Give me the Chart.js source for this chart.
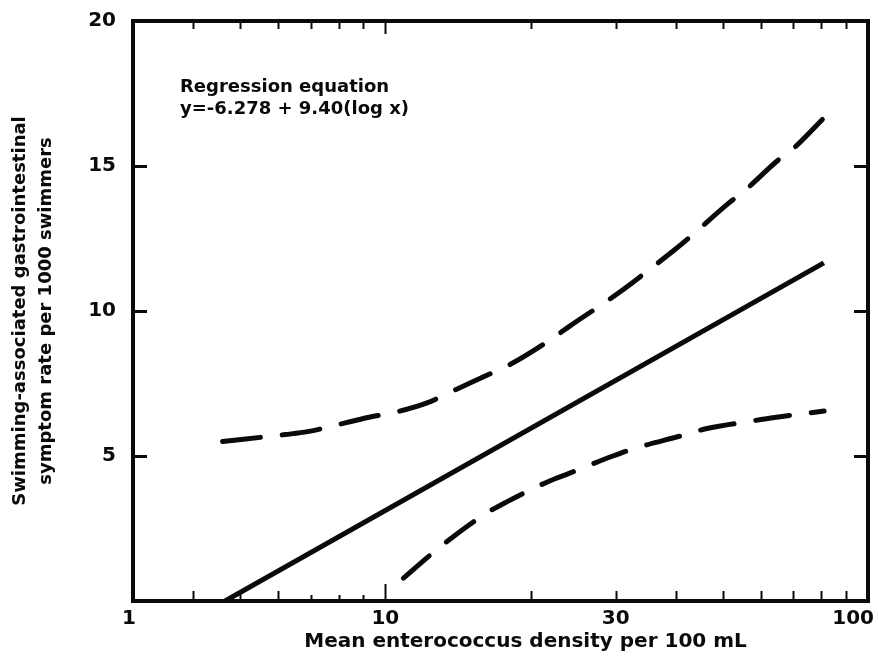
<!DOCTYPE html>
<html>
<head>
<meta charset="utf-8">
<script src="https://cdn.jsdelivr.net/npm/chart.js@4.4.1/dist/chart.umd.min.js"></script>
<style>
  html, body { margin: 0; padding: 0; background: #ffffff; }
  #wrap { width: 878px; height: 667px; position: relative; }
</style>
</head>
<body>
<div id="wrap"><canvas id="chart"></canvas></div>
<script>
// Regression of swimming-associated GI symptom rate on enterococcus density
const intercept = -6.278;
const slope = 9.40;
const regEndX = 81;

// Upper 95% confidence band
const upperX = [4.6, 6.2, 6.9, 8.3, 9.4, 10.3, 12.2, 13.5, 16.6, 18.2, 22.3, 24.1, 29.4, 32.4, 39.4, 43.1, 51.3, 55.6, 65, 70, 80.7];
const upperY = [5.50, 5.74, 5.84, 6.15, 6.36, 6.48, 6.83, 7.17, 7.86, 8.17, 9.08, 9.48, 10.45, 10.96, 12.06, 12.6, 13.7, 14.16, 15.19, 15.6, 16.63];

// Lower 95% confidence band
const lowerX = [10.9, 12.6, 13.8, 16.2, 17.8, 21.9, 24.1, 29.6, 32.5, 41.5, 45.9, 57.7, 62.9, 81.1];
const lowerY = [0.79, 1.69, 2.21, 3.03, 3.41, 4.14, 4.41, 5.0, 5.24, 5.72, 5.93, 6.21, 6.31, 6.55];

// Axis range and tick labels
const xMin = 3, xMax = 100;
const xTickValues = [3, 10, 30, 100];
const xTickLabels = ['1', '10', '30', '100'];
const xMarkValues = [4, 5, 6, 7, 8, 9, 10, 20, 30, 40, 50, 60, 70, 80, 90];
const yMin = 0, yMax = 20;
const yTickValues = [5, 10, 15, 20];
const yMarkValues = [5, 10, 15];

const xTitle = 'Mean enterococcus density per 100 mL';
const yTitle = ['Swimming-associated gastrointestinal', 'symptom rate per 1000 swimmers'];
const noteTitle = 'Regression equation';
const noteEquation = 'y=' + intercept.toFixed(3) + ' + ' + slope.toFixed(2) + '(log x)';

const FONT = "'DejaVu Sans', 'Liberation Sans', sans-serif";
const INK = '#0a0a0a';

const regStartX = Math.pow(10, -intercept / slope);
const regLine = [regStartX, regEndX].map(x => ({ x, y: intercept + slope * Math.log10(x) }));
const upperBand = upperX.map((x, i) => ({ x, y: upperY[i] }));
const lowerBand = lowerX.map((x, i) => ({ x, y: lowerY[i] }));

// Frame, inward tick marks, x tick labels, x title and the equation note
const decorations = {
  id: 'decorations',
  afterDatasetsDraw(chart) {
    const { ctx, chartArea: a, scales } = chart;
    const xs = scales.x, ys = scales.y;
    ctx.save();
    ctx.strokeStyle = INK;
    ctx.lineCap = 'butt';

    ctx.lineWidth = 2;
    xMarkValues.forEach(v => {
      const px = Math.round(xs.getPixelForValue(v)) + 0.5;
      const lenB = v === 10 ? 17 : (v >= 7 && v <= 9 ? 6 : 10);
      const lenT = v === 10 ? 13 : 8;
      ctx.beginPath();
      ctx.moveTo(px, a.bottom); ctx.lineTo(px, a.bottom - lenB);
      ctx.moveTo(px, a.top); ctx.lineTo(px, a.top + lenT);
      ctx.stroke();
    });
    ctx.lineWidth = 3;
    yMarkValues.forEach(v => {
      const py = Math.round(ys.getPixelForValue(v)) + 0.5;
      ctx.beginPath();
      ctx.moveTo(a.left, py); ctx.lineTo(a.left + 14, py);
      ctx.moveTo(a.right, py); ctx.lineTo(a.right - 14, py);
      ctx.stroke();
    });

    ctx.lineWidth = 4;
    ctx.strokeRect(a.left, a.top, a.right - a.left, a.bottom - a.top);

    ctx.fillStyle = INK;
    ctx.font = 'bold 20px ' + FONT;
    ctx.textBaseline = 'middle';
    xTickValues.forEach((v, i) => {
      const px = xs.getPixelForValue(v);
      const last = i === xTickValues.length - 1;
      ctx.textAlign = last ? 'right' : 'center';
      ctx.fillText(xTickLabels[i], last ? px + 6 : px - (i === 0 ? 4 : 0), a.bottom + 18);
    });

    ctx.textAlign = 'center';
    ctx.font = 'bold 20px ' + FONT;
    ctx.fillText(xTitle, (a.left + a.right) / 2 + 25, a.bottom + 41);

    ctx.textAlign = 'left';
    ctx.font = 'bold 18px ' + FONT;
    ctx.fillText(noteTitle, a.left + 47, a.top + 66);
    ctx.fillText(noteEquation, a.left + 47, a.top + 88);
    ctx.restore();
  }
};

new Chart(document.getElementById('chart'), {
  type: 'line',
  data: {
    datasets: [
      {
        label: 'Regression',
        data: regLine,
        borderColor: INK,
        borderWidth: 5,
        borderCapStyle: 'butt',
        pointRadius: 0,
        fill: false
      },
      {
        label: 'Upper limit',
        data: upperBand,
        borderColor: INK,
        borderWidth: 5,
        borderDash: [38, 22],
        borderCapStyle: 'round',
        cubicInterpolationMode: 'monotone',
        pointRadius: 0,
        fill: false
      },
      {
        label: 'Lower limit',
        data: lowerBand,
        borderColor: INK,
        borderWidth: 5,
        borderDash: [34, 22],
        borderCapStyle: 'round',
        cubicInterpolationMode: 'monotone',
        pointRadius: 0,
        fill: false
      }
    ]
  },
  options: {
    responsive: true,
    maintainAspectRatio: false,
    animation: false,
    events: [],
    layout: { padding: { top: 21, right: 10, left: 0, bottom: 0 } },
    plugins: { legend: { display: false }, tooltip: { enabled: false } },
    scales: {
      x: {
        type: 'logarithmic',
        min: xMin,
        max: xMax,
        grid: { display: false },
        border: { display: false },
        ticks: { display: false },
        afterFit(scale) { scale.height = 66; }
      },
      y: {
        type: 'linear',
        min: yMin,
        max: yMax,
        grid: { display: false },
        border: { display: false },
        afterBuildTicks(scale) { scale.ticks = yTickValues.map(v => ({ value: v })); },
        ticks: {
          color: INK,
          padding: 9,
          font: { family: FONT, size: 20, weight: 'bold' },
          callback: v => String(v)
        },
        title: {
          display: true,
          text: yTitle,
          color: INK,
          font: { family: FONT, size: 18, weight: 'bold', lineHeight: 1.44 },
          padding: { top: 7, bottom: 0 }
        },
        afterFit(scale) { scale.width = 133; }
      }
    }
  },
  plugins: [decorations]
});
</script>
</body>
</html>
